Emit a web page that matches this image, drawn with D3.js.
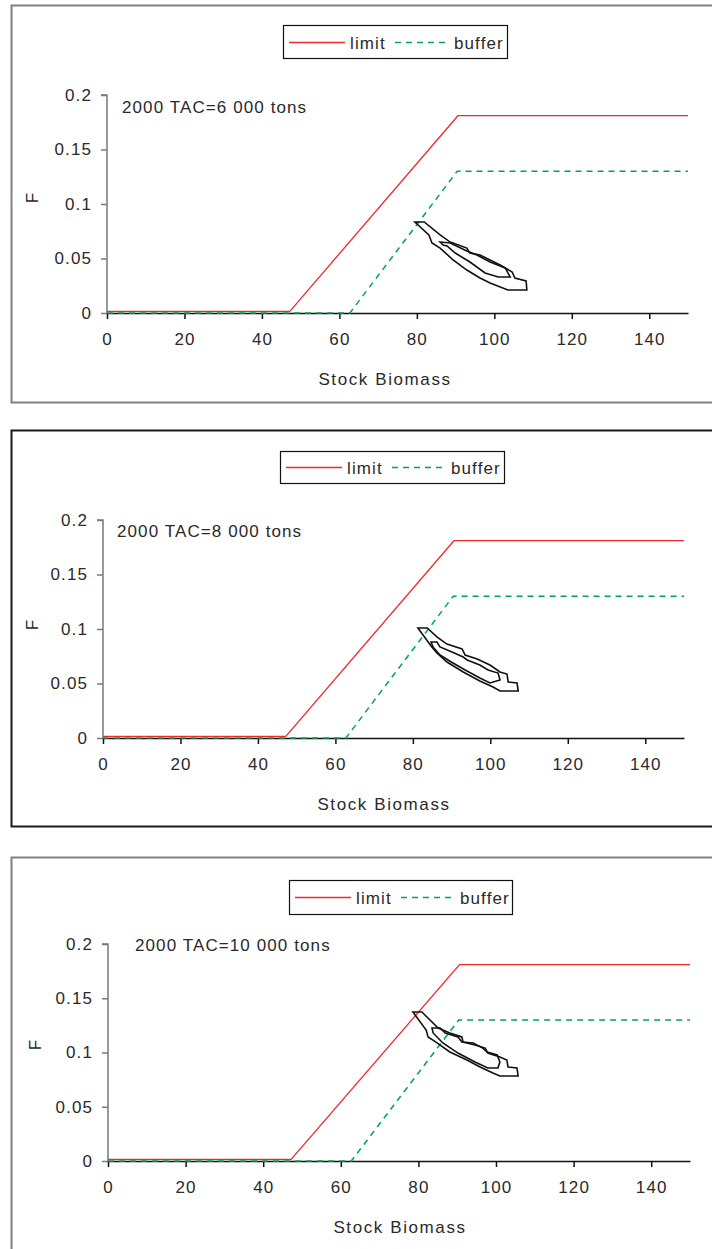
<!DOCTYPE html>
<html><head><meta charset="utf-8">
<script src="https://cdn.jsdelivr.net/npm/d3@7"></script>
<style>
html,body{margin:0;padding:0;background:#fff;}
svg{display:block;}
text{font-family:"Liberation Sans",Arial,sans-serif;fill:#2a2a2a;}
</style></head><body>
<svg id="c" width="712" height="1249"></svg>
<script>
// ---- data ----
const xTicks = [0, 20, 40, 60, 80, 100, 120, 140];
const yTicks = [0, 0.05, 0.1, 0.15, 0.2];
const yTickLabels = ["0", "0.05", "0.1", "0.15", "0.2"];
const seriesNames = ["limit", "buffer"];
const limitB = [0, 47.2, 90.6, 150];
const limitF = [0.0015, 0.0015, 0.181, 0.181];
const bufferB = [0, 62.7, 90.4, 150];
const bufferF = [0, 0, 0.130, 0.130];
const panelLabels = ["2000 TAC=6 000 tons", "2000 TAC=8 000 tons", "2000 TAC=10 000 tons"];

const outer1B = [79.5,81.9,86.0,88.6,92.9,93.7,96.3,98.9,101.5,104.6,105.3,108.2,108.4,103.5,98.9,96.3,92.9,89.1,86.0,83.9,83.1];
const outer1F = [0.0835,0.0835,0.0716,0.0651,0.0596,0.0550,0.0532,0.0486,0.0440,0.0376,0.0321,0.0294,0.0211,0.0211,0.0275,0.0321,0.0394,0.0495,0.0596,0.0642,0.0716];
const inner1B = [86.0,88.6,92.9,95.5,98.9,102.8,104.1,101.0,97.6,93.7,89.9,87.8,86.8];
const inner1F = [0.0651,0.0642,0.0569,0.0532,0.0468,0.0413,0.0330,0.0330,0.0367,0.0468,0.0550,0.0615,0.0624];

const outer2B = [81.3,83.7,86.2,88.8,92.7,93.5,96.6,99.9,102.5,104.3,104.6,106.9,107.2,102.5,100.7,97.3,93.0,88.8,86.2,84.9];
const outer2F = [0.1009,0.1009,0.0927,0.0862,0.0817,0.0761,0.0725,0.0670,0.0606,0.0587,0.0514,0.0505,0.0431,0.0431,0.0468,0.0523,0.0606,0.0697,0.0780,0.0835];
const inner2B = [84.7,86.2,87.0,90.1,93.0,94.0,97.3,99.4,102.0,102.5,99.9,97.3,93.5,89.9,87.0,85.2];
const inner2F = [0.0881,0.0881,0.0835,0.0789,0.0743,0.0716,0.0670,0.0624,0.0596,0.0532,0.0505,0.0550,0.0624,0.0697,0.0761,0.0835];

const outer3B = [78.6,80.9,82.2,85.1,88.1,91.2,91.5,94.6,97.2,97.9,101.0,102.8,103.1,105.4,105.7,101.0,99.2,95.9,92.5,88.1,84.8,82.5,82.0];
const outer3F = [0.1373,0.1373,0.1327,0.1226,0.1180,0.1143,0.1097,0.1069,0.1041,0.0995,0.0959,0.0931,0.0866,0.0857,0.0783,0.0783,0.0811,0.0866,0.0931,0.1005,0.1088,0.1143,0.1207];
const inner3B = [83.5,85.6,86.9,90.2,91.2,94.1,96.6,97.7,100.3,101.0,100.5,97.9,94.6,90.2,86.3,83.8];
const inner3F = [0.1226,0.1226,0.1180,0.1143,0.1097,0.1088,0.1041,0.1005,0.0977,0.0912,0.0857,0.0857,0.0912,0.0995,0.1088,0.1180];

const zip = (a, b) => a.map((v, i) => [v, b[i]]);

// ---- layout per panel ----
const panels = [
  {top:5, fh:397, frameColor:"#808080", x0:107, x1:688, yTop:95, yBot:313,
   legend:{x:283,y:25,w:224,h:33}, label:{x:122,y:113}, fx:38, fy:198, title:{x:385},
   contours:[zip(outer1B,outer1F), zip(inner1B,inner1F)], text:panelLabels[0]},
  {top:430, fh:396, frameColor:"#1a1a1a", x0:103, x1:684, yTop:520, yBot:738,
   legend:{x:280,y:451,w:224,h:32}, label:{x:117,y:537}, fx:38, fy:625, title:{x:384},
   contours:[zip(outer2B,outer2F), zip(inner2B,inner2F)], text:panelLabels[1]},
  {top:857, fh:420, frameColor:"#808080", x0:108, x1:690, yTop:944, yBot:1161,
   legend:{x:289,y:880,w:223,h:34}, label:{x:135,y:951}, fx:41, fy:1045, title:{x:400},
   contours:[zip(outer3B,outer3F), zip(inner3B,inner3F)], text:panelLabels[2]}
];

const svg = d3.select("#c");
const FS = 17, LS = "1.1px";

panels.forEach(p => {
  const g = svg.append("g");
  // frame
  g.append("rect").attr("x", 11.5).attr("y", p.top + 0.5).attr("width", 720).attr("height", p.fh)
    .attr("fill", "none").attr("stroke", p.frameColor).attr("stroke-width", 2);

  const x = d3.scaleLinear().domain([0, 150]).range([p.x0, p.x1]);
  const y = d3.scaleLinear().domain([0, 0.2]).range([p.yBot, p.yTop]);

  // y axis
  const ya = g.append("g").attr("transform", `translate(${p.x0},0)`)
    .call(d3.axisLeft(y).tickValues(yTicks).tickFormat((d, i) => yTickLabels[i]).tickSize(6).tickPadding(9));
  ya.select(".domain").attr("stroke", "#7a7a7a").attr("stroke-width", 1.5).attr("d", `M-6,${p.yTop}H0V${p.yBot}`);
  ya.selectAll(".tick line").attr("stroke", "#7a7a7a").attr("stroke-width", 1.5);
  ya.selectAll(".tick text").attr("font-size", FS).attr("fill", "#2a2a2a").style("letter-spacing", LS)
    .attr("font-family", "Liberation Sans, Arial, sans-serif");

  // x axis
  const xa = g.append("g").attr("transform", `translate(0,${p.yBot})`)
    .call(d3.axisBottom(x).tickValues(xTicks).tickSize(6).tickSizeOuter(0).tickPadding(14));
  xa.select(".domain").attr("stroke", "#111").attr("stroke-width", 1.5);
  xa.selectAll(".tick line").attr("stroke", "#111").attr("stroke-width", 1.5);
  xa.selectAll(".tick text").attr("font-size", FS).attr("fill", "#2a2a2a").style("letter-spacing", LS)
    .attr("font-family", "Liberation Sans, Arial, sans-serif");

  const line = d3.line().x(d => x(d[0])).y(d => y(d[1]));
  // buffer
  g.append("path").datum(zip(bufferB, bufferF)).attr("d", line)
    .attr("fill", "none").attr("stroke", "#00a550").attr("stroke-width", 1.5).attr("stroke-dasharray", "6,5");
  // limit
  g.append("path").datum(zip(limitB, limitF)).attr("d", line)
    .attr("fill", "none").attr("stroke", "#ee2a2a").attr("stroke-width", 1.3);

  // contours
  p.contours.forEach(c => {
    g.append("path").datum(c).attr("d", d3.line().x(d => x(d[0])).y(d => y(d[1])).curve(d3.curveLinearClosed))
      .attr("fill", "none").attr("stroke", "#111").attr("stroke-width", 1.6).attr("stroke-linejoin", "miter");
  });

  // annotation
  g.append("text").attr("x", p.label.x).attr("y", p.label.y).attr("font-size", FS).style("letter-spacing", LS).text(p.text);

  // axis titles
  g.append("text").attr("transform", `translate(${p.fx},${p.fy}) rotate(-90)`).attr("text-anchor", "middle")
    .attr("font-size", FS).text("F");
  g.append("text").attr("x", p.title.x).attr("y", p.yBot + 72).attr("text-anchor", "middle")
    .attr("font-size", FS).style("letter-spacing", "1.6px").text("Stock Biomass");

  // legend
  const L = p.legend;
  g.append("rect").attr("x", L.x + 0.5).attr("y", L.y + 0.5).attr("width", L.w).attr("height", L.h)
    .attr("fill", "#fff").attr("stroke", "#111").attr("stroke-width", 1.2);
  const cy = Math.round(L.y + L.h / 2) + 0.5;
  g.append("line").attr("x1", L.x + 6).attr("x2", L.x + 62).attr("y1", cy).attr("y2", cy)
    .attr("stroke", "#ee2a2a").attr("stroke-width", 1.3);
  g.append("text").attr("x", L.x + 67).attr("y", cy + 6).attr("font-size", FS).style("letter-spacing", LS).text(seriesNames[0]);
  g.append("line").attr("x1", L.x + 112).attr("x2", L.x + 162).attr("y1", cy).attr("y2", cy)
    .attr("stroke", "#00a550").attr("stroke-width", 1.5).attr("stroke-dasharray", "6,5");
  g.append("text").attr("x", L.x + 171).attr("y", cy + 6).attr("font-size", FS).style("letter-spacing", LS).text(seriesNames[1]);
});
</script>
</body></html>
